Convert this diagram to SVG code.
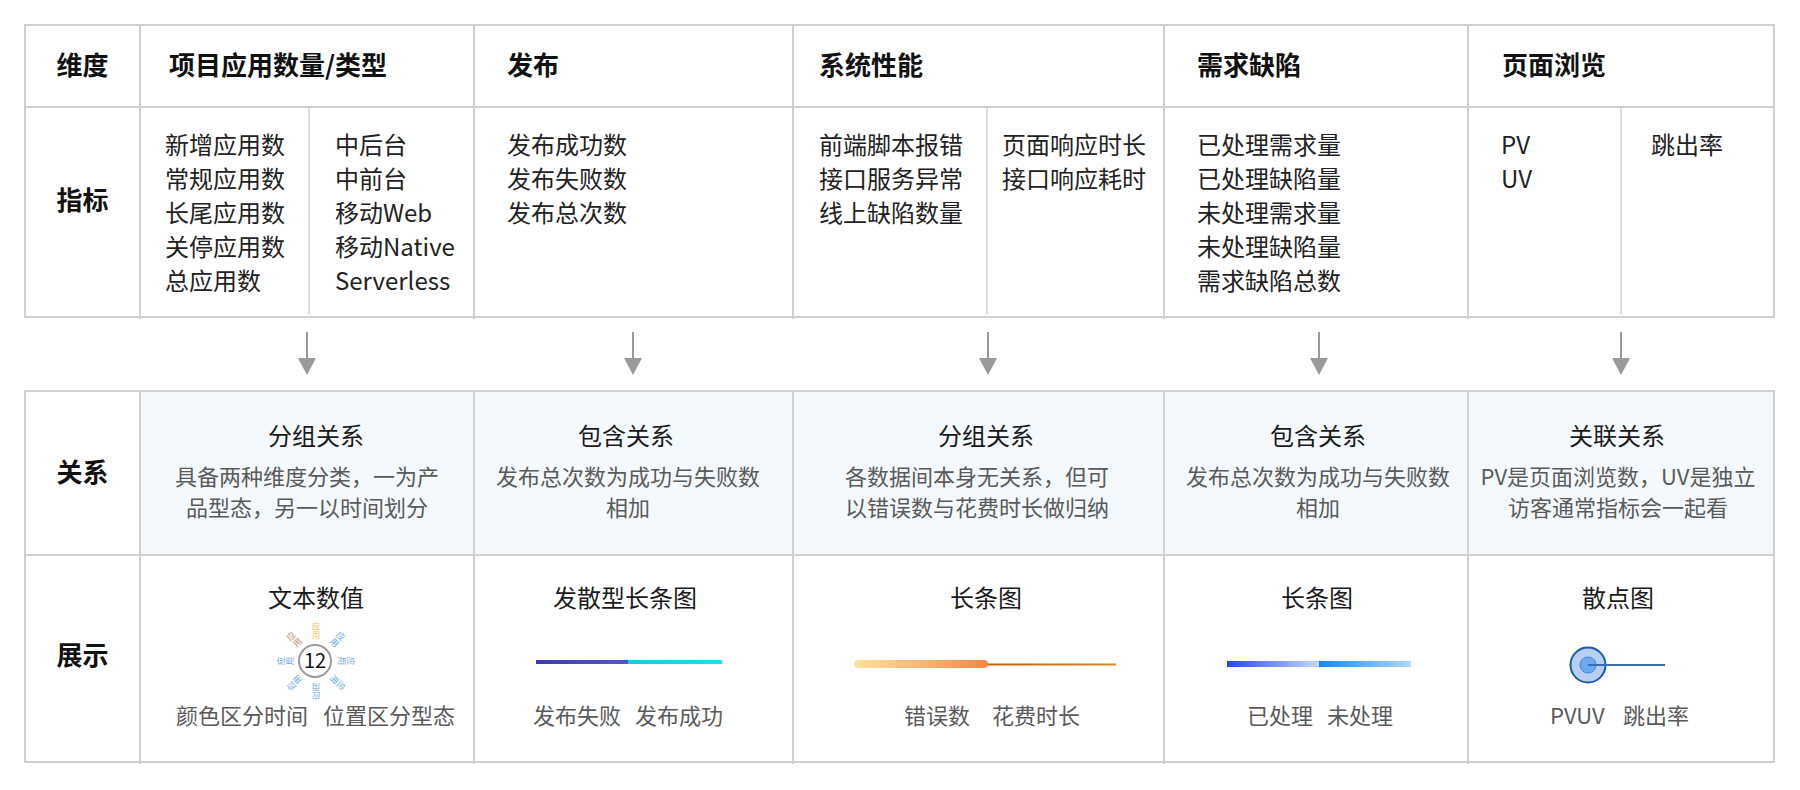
<svg xmlns="http://www.w3.org/2000/svg" width="1800" height="790" viewBox="0 0 1800 790">
<style>
text{font-family:"Noto Sans CJK SC","Noto Sans",sans-serif}
.hd{font-size:26px;font-weight:bold;fill:#111}
.bd{font-size:24px;fill:#222}
.ttl{font-size:24px;fill:#1a1a1a;text-anchor:middle}
.dsc{font-size:22px;fill:#5a5a5a;text-anchor:middle}
.sub{font-size:22px;fill:#5a5a5a}
.grid{stroke:#d0d0d0;stroke-width:2;fill:none}
.inner{stroke:#dcdcdc;stroke-width:2}
.arr{stroke:#999;stroke-width:2;marker-end:url(#ah)}
.rd{font-size:8.5px;text-anchor:middle}
</style>
<defs>
<marker id="ah" markerUnits="userSpaceOnUse" markerWidth="17" markerHeight="18" viewBox="0 0 17 18" refX="0" refY="9" orient="auto">
<path d="M0,0 L17,9 L0,18 z" fill="#999"/>
</marker>
<linearGradient id="g2a" x1="0" x2="1"><stop offset="0" stop-color="#3a3ab4"/><stop offset="1" stop-color="#5656d2"/></linearGradient>
<linearGradient id="g2b" x1="0" x2="1"><stop offset="0" stop-color="#1ccadf"/><stop offset="1" stop-color="#22dcea"/></linearGradient>
<linearGradient id="g3a" x1="0" x2="1"><stop offset="0" stop-color="#fbe39c"/><stop offset="1" stop-color="#f5854a"/></linearGradient>
<linearGradient id="g3b" x1="0" x2="1"><stop offset="0" stop-color="#bf6000"/><stop offset="1" stop-color="#cf8a30"/></linearGradient>
<linearGradient id="g4a" x1="0" x2="1"><stop offset="0" stop-color="#2843f2"/><stop offset="1" stop-color="#c4dcfa"/></linearGradient>
<linearGradient id="g4b" x1="0" x2="1"><stop offset="0" stop-color="#1286f7"/><stop offset="1" stop-color="#b2d9fd"/></linearGradient>
</defs>
<rect width="1800" height="790" fill="#fff"/>

<!-- upper table -->
<g id="upper-table">
<rect class="grid" x="25" y="25" width="1749" height="292"/>
<line class="grid" x1="25" y1="107" x2="1774" y2="107"/>
<line class="grid" x1="140" y1="25" x2="140" y2="319"/>
<line class="grid" x1="474" y1="25" x2="474" y2="319"/>
<line class="grid" x1="793" y1="25" x2="793" y2="319"/>
<line class="grid" x1="1164" y1="25" x2="1164" y2="319"/>
<line class="grid" x1="1468" y1="25" x2="1468" y2="319"/>
<line class="inner" x1="309" y1="108" x2="309" y2="315"/>
<line class="inner" x1="987" y1="108" x2="987" y2="315"/>
<line class="inner" x1="1621" y1="108" x2="1621" y2="315"/>
</g>

<g id="label-dimension"><text class="hd" x="82.5" y="75" text-anchor="middle">维度</text></g>
<g id="label-metric"><text class="hd" x="82.5" y="210" text-anchor="middle">指标</text></g>

<g id="col-app">
<text class="hd" x="169" y="75">项目应用数量/类型</text>
<text class="bd" x="165" y="154">新增应用数</text>
<text class="bd" x="165" y="188">常规应用数</text>
<text class="bd" x="165" y="222">长尾应用数</text>
<text class="bd" x="165" y="256">关停应用数</text>
<text class="bd" x="165" y="290">总应用数</text>
<text class="bd" x="335" y="154">中后台</text>
<text class="bd" x="335" y="188">中前台</text>
<text class="bd" x="335" y="222">移动Web</text>
<text class="bd" x="335" y="256">移动Native</text>
<text class="bd" x="335" y="290">Serverless</text>
</g>

<g id="col-release">
<text class="hd" x="507" y="75">发布</text>
<text class="bd" x="507" y="154">发布成功数</text>
<text class="bd" x="507" y="188">发布失败数</text>
<text class="bd" x="507" y="222">发布总次数</text>
</g>

<g id="col-perf">
<text class="hd" x="819" y="75">系统性能</text>
<text class="bd" x="819" y="154">前端脚本报错</text>
<text class="bd" x="819" y="188">接口服务异常</text>
<text class="bd" x="819" y="222">线上缺陷数量</text>
<text class="bd" x="1002" y="154">页面响应时长</text>
<text class="bd" x="1002" y="188">接口响应耗时</text>
</g>

<g id="col-defect">
<text class="hd" x="1197" y="75">需求缺陷</text>
<text class="bd" x="1197" y="154">已处理需求量</text>
<text class="bd" x="1197" y="188">已处理缺陷量</text>
<text class="bd" x="1197" y="222">未处理需求量</text>
<text class="bd" x="1197" y="256">未处理缺陷量</text>
<text class="bd" x="1197" y="290">需求缺陷总数</text>
</g>

<g id="col-pv">
<text class="hd" x="1502" y="75">页面浏览</text>
<text class="bd" x="1501" y="154">PV</text>
<text class="bd" x="1501" y="188">UV</text>
<text class="bd" x="1651" y="154">跳出率</text>
</g>

<!-- connectors -->
<g id="connectors">
<line class="arr" x1="307" y1="332" x2="307" y2="358"/>
<line class="arr" x1="633" y1="332" x2="633" y2="358"/>
<line class="arr" x1="988" y1="332" x2="988" y2="358"/>
<line class="arr" x1="1319" y1="332" x2="1319" y2="358"/>
<line class="arr" x1="1621" y1="332" x2="1621" y2="358"/>
</g>

<!-- lower table -->
<g id="lower-table">
<rect x="140" y="391" width="1634" height="164" fill="#f3f9fd"/>
<rect class="grid" x="25" y="391" width="1749" height="371"/>
<line class="grid" x1="25" y1="555" x2="1774" y2="555"/>
<line class="grid" x1="140" y1="391" x2="140" y2="764"/>
<line class="grid" x1="474" y1="391" x2="474" y2="764"/>
<line class="grid" x1="793" y1="391" x2="793" y2="764"/>
<line class="grid" x1="1164" y1="391" x2="1164" y2="764"/>
<line class="grid" x1="1468" y1="391" x2="1468" y2="764"/>
</g>

<g id="label-relation"><text class="hd" x="82.5" y="482" text-anchor="middle">关系</text></g>
<g id="label-display"><text class="hd" x="82.5" y="665" text-anchor="middle">展示</text></g>

<g id="rel-app">
<text class="ttl" x="316" y="445">分组关系</text>
<text class="dsc" x="307" y="485">具备两种维度分类，一为产</text>
<text class="dsc" x="307" y="516">品型态，另一以时间划分</text>
</g>
<g id="rel-release">
<text class="ttl" x="626" y="445">包含关系</text>
<text class="dsc" x="628" y="485">发布总次数为成功与失败数</text>
<text class="dsc" x="628" y="516">相加</text>
</g>
<g id="rel-perf">
<text class="ttl" x="986" y="445">分组关系</text>
<text class="dsc" x="977" y="485">各数据间本身无关系，但可</text>
<text class="dsc" x="977" y="516">以错误数与花费时长做归纳</text>
</g>
<g id="rel-defect">
<text class="ttl" x="1318" y="445">包含关系</text>
<text class="dsc" x="1318" y="485">发布总次数为成功与失败数</text>
<text class="dsc" x="1318" y="516">相加</text>
</g>
<g id="rel-pv">
<text class="ttl" x="1617" y="445">关联关系</text>
<text class="dsc" x="1618" y="485">PV是页面浏览数，UV是独立</text>
<text class="dsc" x="1618" y="516">访客通常指标会一起看</text>
</g>

<g id="disp-app">
<text class="ttl" x="316" y="607">文本数值</text>
<g fill="#e8bf68"><text class="rd" x="316" y="629">应</text><text class="rd" x="316" y="638">用</text></g>
<g transform="rotate(45 316 661)" fill="#6aa7e6"><text class="rd" x="316" y="629">应</text><text class="rd" x="316" y="638">用</text></g>
<g transform="rotate(90 316 661)" fill="#6aa7e6"><text class="rd" x="316" y="629">应</text><text class="rd" x="316" y="638">用</text></g>
<g transform="rotate(135 316 661)" fill="#6aa7e6"><text class="rd" x="316" y="629">应</text><text class="rd" x="316" y="638">用</text></g>
<g transform="rotate(180 316 661)" fill="#6aa7e6"><text class="rd" x="316" y="629">应</text><text class="rd" x="316" y="638">用</text></g>
<g transform="rotate(225 316 661)" fill="#6aa7e6"><text class="rd" x="316" y="629">应</text><text class="rd" x="316" y="638">用</text></g>
<g transform="rotate(270 316 661)" fill="#6aa7e6"><text class="rd" x="316" y="629">应</text><text class="rd" x="316" y="638">用</text></g>
<g transform="rotate(315 316 661)" fill="#c78d66"><text class="rd" x="316" y="629">应</text><text class="rd" x="316" y="638">用</text></g>
<circle cx="315" cy="661" r="16" fill="#fff" stroke="#9a9a9a" stroke-width="2"/>
<text x="315" y="668" font-size="20" text-anchor="middle" fill="#111">12</text>
<text class="sub" x="176" y="724">颜色区分时间</text>
<text class="sub" x="323" y="724">位置区分型态</text>
</g>

<g id="disp-release">
<text class="ttl" x="625" y="607">发散型长条图</text>
<rect x="536" y="660" width="92" height="4" fill="url(#g2a)"/>
<rect x="628" y="660" width="94" height="4" fill="url(#g2b)"/>
<text class="sub" x="533" y="724">发布失败</text>
<text class="sub" x="635" y="724">发布成功</text>
</g>

<g id="disp-perf">
<text class="ttl" x="986" y="607">长条图</text>
<rect x="984" y="663.5" width="132" height="2" fill="url(#g3b)"/>
<rect x="854" y="660" width="134" height="8" rx="4" fill="url(#g3a)"/>
<text class="sub" x="904" y="724">错误数</text>
<text class="sub" x="992" y="724">花费时长</text>
</g>

<g id="disp-defect">
<text class="ttl" x="1317" y="607">长条图</text>
<rect x="1227" y="661" width="92" height="6" fill="url(#g4a)"/>
<rect x="1319" y="661" width="92" height="6" fill="url(#g4b)"/>
<text class="sub" x="1247" y="724">已处理</text>
<text class="sub" x="1327" y="724">未处理</text>
</g>

<g id="disp-pv">
<text class="ttl" x="1618" y="607">散点图</text>
<circle cx="1588" cy="665" r="17.5" fill="#b7cff0" stroke="#1a5aa8" stroke-width="2"/>
<circle cx="1588" cy="665" r="8" fill="#6eaaf0" stroke="#3a88e6" stroke-width="1"/>
<line x1="1588" y1="665" x2="1665" y2="665" stroke="#3a6eb0" stroke-width="2"/>
<text class="sub" x="1550" y="724">PVUV</text>
<text class="sub" x="1623" y="724">跳出率</text>
</g>
</svg>
